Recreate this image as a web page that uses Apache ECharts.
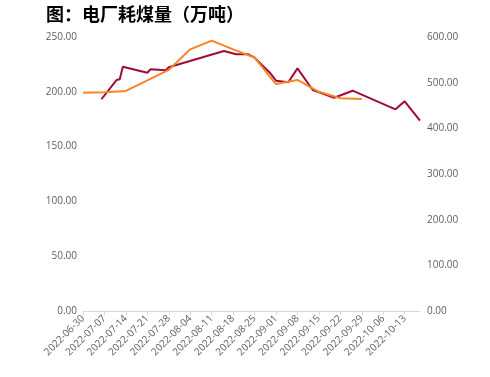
<!DOCTYPE html>
<html>
<head>
<meta charset="utf-8">
<script src="https://cdn.jsdelivr.net/npm/echarts@6/dist/echarts.min.js"></script>
<style>
  html, body { margin: 0; padding: 0; background: #fff; }
  #main { width: 490px; height: 377px; }
</style>
</head>
<body>
<div id="main"></div>
<script>
// 日期范围（类目轴，按天）
const startDate = '2022-06-30';
const endDate = '2022-10-18';

// 沿海八省（左轴）
const coastal = [
    ['2022-07-06', 193.2], ['2022-07-11', 210.8], ['2022-07-12', 211.4], ['2022-07-13', 222.9],
    ['2022-07-21', 217.4], ['2022-07-22', 220.5], ['2022-07-27', 219.6], ['2022-07-28', 222.4],
    ['2022-08-15', 237.2], ['2022-08-19', 234.2], ['2022-08-23', 234.2], ['2022-08-25', 231.1],
    ['2022-08-30', 217.4], ['2022-09-01', 210.1], ['2022-09-05', 208.7], ['2022-09-08', 221.4],
    ['2022-09-13', 201.6], ['2022-09-20', 194.6], ['2022-09-26', 201.0], ['2022-10-10', 184.0],
    ['2022-10-13', 191.3], ['2022-10-18', 173.6]
];

// 内陆十七省（右轴）
const inland = [
    ['2022-06-30', 478], ['2022-07-07', 479], ['2022-07-14', 482], ['2022-07-21', 505],
    ['2022-07-28', 528], ['2022-08-04', 573], ['2022-08-11', 592], ['2022-08-18', 573],
    ['2022-08-25', 555], ['2022-09-01', 497], ['2022-09-08', 506], ['2022-09-15', 480],
    ['2022-09-22', 466], ['2022-09-29', 464]
];

const legendNames = ['沿海八省电厂日耗(左轴)', '内陆17省电厂日耗量(右轴)'];

let days = [];
let d = new Date(startDate + 'T00:00:00Z');
const end = new Date(endDate + 'T00:00:00Z');
while (d <= end) {
    days.push(d.toISOString().slice(0, 10));
    d = new Date(d.getTime() + 86400000);
}

const labelColor = '#5f5f5f';
const numFont = '"Open Sans", "Noto Sans", sans-serif';

const chart = echarts.init(document.getElementById('main'));

chart.setOption({
    animation: false,
    backgroundColor: '#ffffff',
    title: {
        text: '图：电厂耗煤量（万吨）',
        left: 41,
        top: 0,
        textStyle: {
            fontFamily: '"Noto Sans CJK SC", sans-serif',
            fontSize: 18,
            fontWeight: 'bold',
            color: '#000'
        }
    },
    legend: {
        data: legendNames,
        top: 372,
        left: 'center',
        itemWidth: 20,
        itemHeight: 8,
        itemGap: 24,
        textStyle: { fontSize: 10, color: '#8f8f8f', fontFamily: '"Noto Sans CJK SC", sans-serif' }
    },
    grid: {
        left: 83,
        right: 70,
        top: 37,
        bottom: 66
    },
    xAxis: {
        type: 'category',
        data: days,
        boundaryGap: false,
        axisLine: { lineStyle: { color: '#d9d9d9' } },
        axisTick: { interval: 6, length: 4, lineStyle: { color: '#d9d9d9' } },
        axisLabel: {
            interval: 6,
            rotate: 45,
            fontSize: 10,
            color: labelColor,
            fontFamily: numFont,
            margin: 6
        }
    },
    yAxis: [{
        type: 'value',
        min: 0,
        max: 250,
        interval: 50,
        position: 'left',
        axisLine: { show: false },
        axisTick: { show: false },
        splitLine: { show: false },
        axisLabel: {
            fontSize: 10,
            color: labelColor,
            fontFamily: numFont,
            margin: 6,
            formatter: v => v.toFixed(2)
        }
    }, {
        type: 'value',
        min: 0,
        max: 600,
        interval: 100,
        position: 'right',
        axisLine: { show: false },
        axisTick: { show: false },
        splitLine: { show: false },
        axisLabel: {
            fontSize: 10,
            color: labelColor,
            fontFamily: numFont,
            margin: 7,
            formatter: v => v.toFixed(2)
        }
    }],
    series: [{
        name: legendNames[0],
        type: 'line',
        yAxisIndex: 0,
        data: coastal,
        showSymbol: false,
        symbol: 'none',
        lineStyle: { width: 2, color: '#a00c38' },
        itemStyle: { color: '#a00c38' }
    }, {
        name: legendNames[1],
        type: 'line',
        yAxisIndex: 1,
        data: inland,
        showSymbol: false,
        symbol: 'none',
        lineStyle: { width: 2, color: '#f98425' },
        itemStyle: { color: '#f98425' }
    }]
});
</script>
</body>
</html>
